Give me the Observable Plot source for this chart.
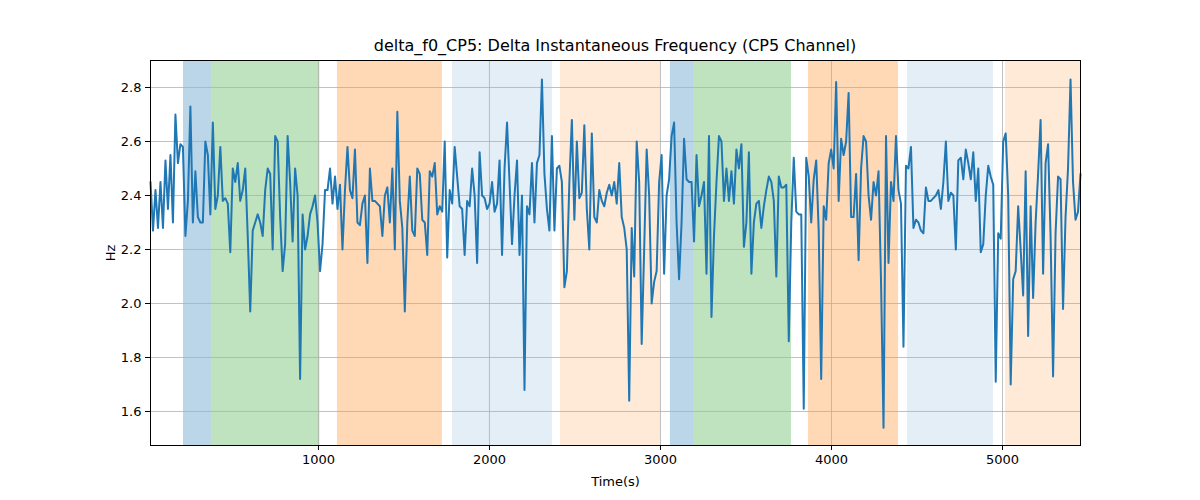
<!DOCTYPE html>
<html>
<head>
<meta charset="utf-8">
<script src="https://cdn.jsdelivr.net/npm/d3@7"></script>
<script src="https://cdn.jsdelivr.net/npm/@observablehq/plot@0.6"></script>
<style>
  body { margin: 0; background: white; font-family: "DejaVu Sans", sans-serif; }
  #wrap { position: relative; width: 1200px; height: 500px; }
  #title { position: absolute; top: 36px; left: 150px; width: 930px; text-align: center; font-size: 16px; }
</style>
</head>
<body>
<div id="wrap">
  <div id="title">delta_f0_CP5: Delta Instantaneous Frequency (CP5 Channel)</div>
  <div id="chart"></div>
</div>
<script>
const tStart = 18, tEnd = 5456;
const values = [
  2.45, 2.27, 2.42, 2.28, 2.45, 2.28, 2.53, 2.35, 2.55, 2.30, 2.70, 2.52, 2.59, 2.58, 2.25, 2.38, 2.73, 2.30, 2.49, 2.32,
  2.30, 2.30, 2.60, 2.55, 2.33, 2.67, 2.35, 2.40, 2.58, 2.38, 2.39, 2.37, 2.19, 2.50, 2.45, 2.52, 2.38, 2.42, 2.50, 2.25,
  1.97, 2.27, 2.30, 2.33,
  2.30, 2.25, 2.42, 2.50, 2.48, 2.20, 2.62, 2.60, 2.32, 2.12, 2.22, 2.62, 2.45, 2.23, 2.50, 2.40, 1.72, 2.33, 2.20, 2.25,
  2.33, 2.36, 2.40, 2.30, 2.12, 2.22, 2.42, 2.42, 2.50, 2.37, 2.47, 2.35, 2.44, 2.20, 2.42, 2.58, 2.42, 2.39, 2.57, 2.30,
  2.29, 2.37, 2.40, 2.15, 2.50, 2.38, 2.38,
  2.37, 2.36, 2.25, 2.40, 2.43, 2.30, 2.50, 2.20, 2.71, 2.38, 2.28, 1.97, 2.30, 2.47, 2.27, 2.25, 2.50, 2.48, 2.31, 2.30,
  2.18, 2.49, 2.47, 2.52, 2.33, 2.36, 2.34, 2.60, 2.17, 2.42, 2.37, 2.58, 2.47, 2.36, 2.35, 2.18, 2.38, 2.36, 2.50, 2.40,
  2.15, 2.56, 2.40, 2.39, 2.35, 2.37, 2.45,
  2.34, 2.37, 2.53, 2.18, 2.50, 2.67, 2.45, 2.22, 2.40, 2.53, 2.18, 2.40, 1.68, 2.36, 2.33, 2.52, 2.30, 2.52, 2.55, 2.83,
  2.48, 2.35, 2.27, 2.62, 2.27, 2.50, 2.51, 2.45, 2.06, 2.12, 2.45, 2.68, 2.31, 2.60, 2.39, 2.41, 2.66, 2.35, 2.20, 2.63,
  2.32, 2.30, 2.42, 2.38, 2.36, 2.41, 2.44,
  2.40, 2.45, 2.37, 2.52, 2.32, 2.28, 2.20, 1.64, 2.28, 2.10, 2.60, 2.45, 1.85, 2.20, 2.57, 2.40, 2.00, 2.08, 2.12, 2.45,
  2.55, 2.11, 2.40, 2.46, 2.62, 2.67, 2.30, 2.09, 2.30, 2.61, 2.46, 2.45, 2.45, 2.23, 2.55, 2.36, 2.40, 2.45, 2.11, 2.62,
  1.95, 2.25, 2.45, 2.62, 2.60, 2.38, 2.50,
  2.38, 2.49, 2.37, 2.57, 2.50, 2.59, 2.21, 2.30, 2.56, 2.11, 2.30, 2.37, 2.38, 2.28, 2.36, 2.42, 2.47, 2.45, 2.38, 2.10,
  2.47, 2.43, 2.43, 2.44, 1.86, 2.30, 2.54, 2.34, 2.33, 2.33, 1.61, 2.54, 2.47, 2.30, 2.46, 2.53, 2.27, 1.72, 2.36, 2.31,
  2.52, 2.57, 2.50, 2.82, 2.38, 2.61, 2.55,
  2.60, 2.78, 2.32, 2.32, 2.48, 2.16, 2.50, 2.62, 2.60, 2.40, 2.31, 2.45, 2.40, 2.49, 2.08, 1.54, 2.62, 2.15, 2.45, 2.38,
  2.62, 2.42, 2.37, 1.84, 2.51, 2.50, 2.58, 2.28, 2.31, 2.30, 2.27, 2.26, 2.43, 2.38, 2.38, 2.39, 2.40, 2.42, 2.35, 2.45,
  2.60, 2.38, 2.41, 2.40, 2.20, 2.53, 2.54, 2.46, 2.57,
  2.52, 2.46, 2.56, 2.38, 2.50, 2.19, 2.22, 2.40, 2.51, 2.47, 2.44, 1.71, 2.26, 2.24, 2.60, 2.63, 2.40, 1.70, 2.09, 2.12,
  2.36, 2.20, 2.03, 2.49, 1.88, 2.36, 2.02, 2.30, 2.48, 2.68, 2.11, 2.52, 2.59, 2.25, 1.73, 2.26, 2.47, 2.46, 1.98, 2.32,
  2.50, 2.83, 2.45, 2.31, 2.34, 2.48
];
const step = (tEnd - tStart) / (values.length - 1);
const series = values.map((v, i) => ({t: tStart + i * step, v}));

const spanStart = [211, 374, 1111, 1784, 2415, 3058, 3193, 3865, 4444, 5018];
const spanEnd   = [374, 1008, 1725, 2368, 3000, 3193, 3766, 4392, 4947, 5456];
const spanColor = ["#1f77b4", "#2ca02c", "#ff7f0e", "#1f77b4", "#ff7f0e", "#1f77b4", "#2ca02c", "#ff7f0e", "#1f77b4", "#ff7f0e"];
const spanAlpha = [0.3, 0.3, 0.3, 0.12, 0.16, 0.3, 0.3, 0.3, 0.12, 0.16];
const spans = spanStart.map((s, i) => ({x1: s, x2: spanEnd[i], c: spanColor[i], a: spanAlpha[i]}));

const xTicks = [1000, 2000, 3000, 4000, 5000];
const yTicks = [1.6, 1.8, 2.0, 2.2, 2.4, 2.6, 2.8];

const chart = Plot.plot({
  width: 1200,
  height: 500,
  marginTop: 60,
  marginBottom: 55,
  marginLeft: 150,
  marginRight: 120,
  style: {fontFamily: "DejaVu Sans", fontSize: "13px", color: "black"},
  x: {domain: [tStart, tEnd], ticks: xTicks, tickFormat: d3.format("d"), label: "Time(s)", labelArrow: "none", labelAnchor: "center", labelOffset: 40, tickSize: 5},
  y: {domain: [1.474, 2.9], ticks: yTicks, tickFormat: d3.format(".1f"), label: "Hz", labelArrow: "none", labelAnchor: "center", labelOffset: 45, tickSize: 5},
  marks: [
    Plot.rectX(spans, {x1: "x1", x2: "x2", fill: "c", fillOpacity: "a"}),
    Plot.gridX(xTicks, {stroke: "#b0b0b0", strokeOpacity: 1, strokeWidth: 0.8}),
    Plot.gridY(yTicks, {stroke: "#b0b0b0", strokeOpacity: 1, strokeWidth: 0.8}),
    Plot.line(series, {x: "t", y: "v", stroke: "#1f77b4", strokeWidth: 2}),
    Plot.frame({stroke: "black"})
  ]
});
d3.select("#chart").append(() => chart);
</script>
</body>
</html>
